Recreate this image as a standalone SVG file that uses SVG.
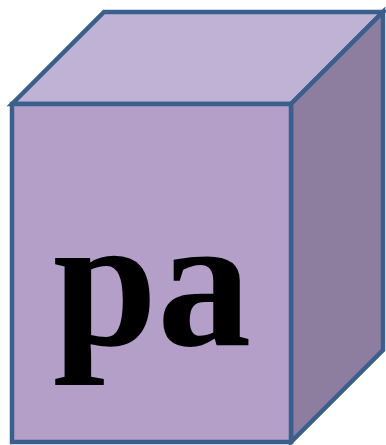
<svg xmlns="http://www.w3.org/2000/svg" width="386" height="445" viewBox="0 0 386 445">
<style>
.f{stroke:#3b5f8c;stroke-width:4.5;stroke-linejoin:miter}
.t{font-family:"Liberation Serif","Times New Roman",serif;font-weight:bold;font-size:188px;fill:#000}
</style>
<g id="cube">
<polygon class="f" fill="#c0b2d4" points="12,104 104,12 383,12 291,104"/>
<polygon class="f" fill="#8d7e9f" points="291,104 383,12 383,350 291,442"/>
<rect class="f" fill="#b39fc8" x="12" y="104" width="279" height="338"/>
<text class="t" x="152" y="345" text-anchor="middle">pa</text>
</g>
</svg>
